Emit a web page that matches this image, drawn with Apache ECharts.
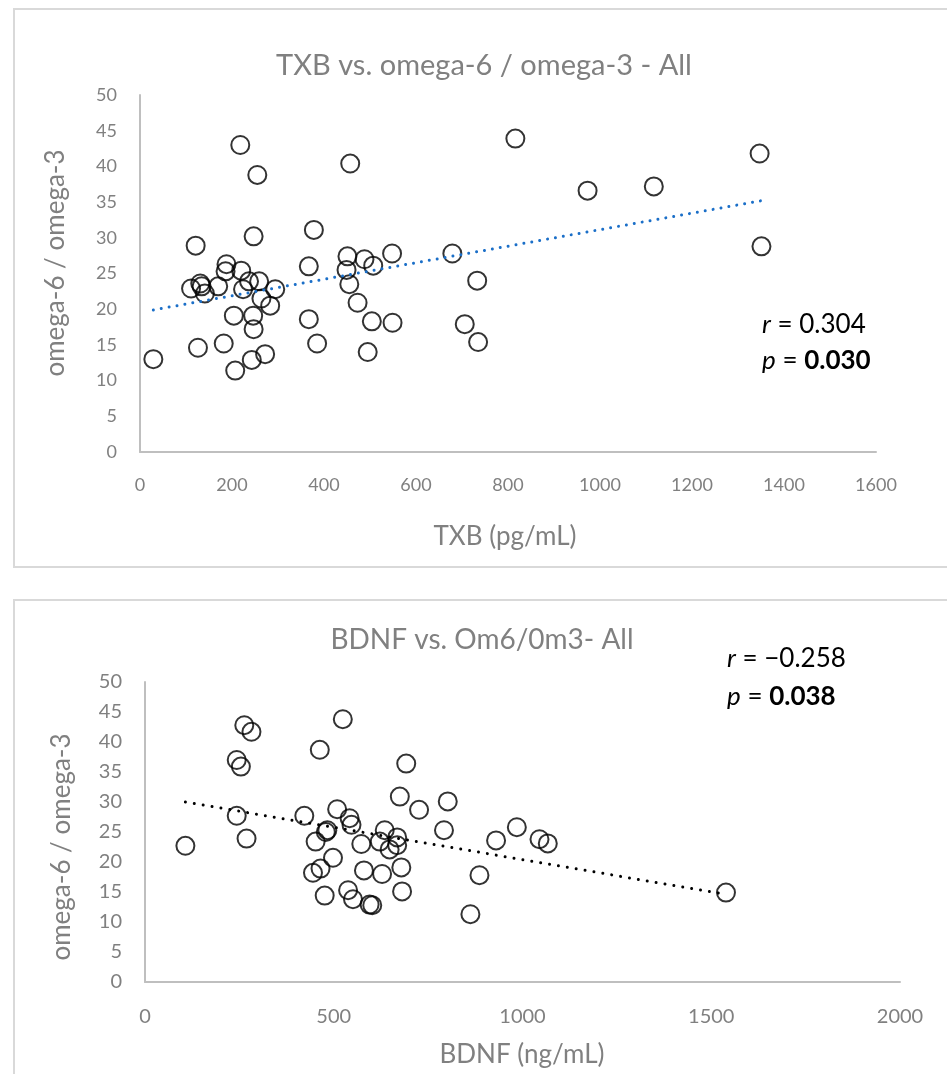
<!DOCTYPE html>
<html>
<head>
<meta charset="utf-8">
<script src="https://cdn.jsdelivr.net/npm/echarts@6/dist/echarts.min.js"></script>
<style>
  html, body { margin: 0; padding: 0; background: #ffffff; }
  #chart { width: 947px; height: 1074px; }
</style>
</head>
<body>
<div id="chart"></div>
<script>
// TXB (pg/mL) and omega-6 / omega-3 ratio, one entry per subject
const txbValues = [29, 121, 218, 255, 247, 457, 378, 367, 451, 488, 507, 548, 449, 455, 473, 504, 549, 367, 385, 495,
  188, 186, 220, 111, 131, 134, 141, 170, 224, 237, 259, 294, 264, 283, 204, 246, 247, 126, 182, 243, 272, 207,
  816, 1347, 973, 1117, 1351, 679, 733, 706, 735];
const txbRatio = [13.0, 28.9, 43.0, 38.8, 30.2, 40.4, 31.1, 26.0, 27.4, 27.0, 26.1, 27.8, 25.5, 23.5, 20.9, 18.3, 18.1, 18.6, 15.2, 14.0,
  26.3, 25.3, 25.4, 22.9, 23.6, 23.2, 22.2, 23.2, 22.8, 23.9, 23.9, 22.8, 21.5, 20.5, 19.1, 19.1, 17.2, 14.6, 15.2, 12.9, 13.7, 11.4,
  43.9, 41.8, 36.6, 37.2, 28.8, 27.8, 24.0, 17.9, 15.4];

// BDNF (ng/mL) and omega-6 / omega-3 ratio
const bdnfValues = [107, 263, 282, 243, 254, 243, 269, 524, 463, 422, 509, 542, 547, 483, 479, 452, 573, 498, 445, 465,
  580, 628, 476, 538, 551, 595, 602, 692, 675, 726, 802, 792, 635, 622, 668, 668, 648, 679, 681, 862,
  886, 930, 985, 1045, 1067, 1539];
const bdnfRatio = [22.7, 42.8, 41.7, 37.0, 35.9, 27.7, 23.9, 43.8, 38.7, 27.7, 28.8, 27.3, 26.2, 25.3, 25.0, 23.4, 23.0, 20.7, 18.2, 18.9,
  18.6, 18.0, 14.4, 15.3, 13.8, 12.9, 12.8, 36.4, 30.9, 28.7, 30.1, 25.3, 25.3, 23.4, 24.1, 22.8, 22.1, 19.1, 15.1, 11.3,
  17.8, 23.6, 25.8, 23.8, 23.1, 14.9];

// Linear trend line end points
const txbTrendX = [29, 1351];
const txbTrendY = [19.9, 35.2];
const bdnfTrendX = [107, 1539];
const bdnfTrendY = [30.0, 14.6];

// Titles, axis names and statistics
const titles = ['TXB vs. omega-6 / omega-3 - All', 'BDNF vs. Om6/0m3- All'];
const xNames = ['TXB (pg/mL)', 'BDNF (ng/mL)'];
const yName = 'omega-6 / omega-3';
const stats = [['0.304', '0.030'], ['\u22120.258', '0.038']];

const FONT = 'Lato, "Open Sans", sans-serif';
const GRAY = '#808080';

const zip = (xs, ys) => xs.map((x, i) => [x, ys[i]]);

function valueAxis(gridIndex, min, max, interval, fontSize, margin) {
  return {
    type: 'value', gridIndex, min, max, interval,
    axisLine: { show: true, lineStyle: { color: '#bfbfbf', width: 2 } },
    axisTick: { show: false },
    splitLine: { show: false },
    axisLabel: {
      color: GRAY, fontFamily: FONT, fontSize, margin,
      formatter: (v) => String(v)
    }
  };
}

function circles(xi, yi, data) {
  return {
    type: 'scatter', xAxisIndex: xi, yAxisIndex: yi, data,
    symbol: 'circle', symbolSize: 18, z: 2,
    itemStyle: { color: 'rgba(0,0,0,0)', borderColor: '#000', borderWidth: 2 }
  };
}

function trend(xi, yi, data, color, width, gap) {
  return {
    type: 'line', xAxisIndex: xi, yAxisIndex: yi, data,
    showSymbol: false, silent: true, z: 3,
    lineStyle: { color, width, type: [0.01, gap], cap: 'round' }
  };
}

function statText(x, y, letter, value, bold) {
  return {
    type: 'text', x, y,
    style: {
      text: '{it|' + letter + '} = {v|' + value + '}',
      fontFamily: FONT, fontSize: 26, fill: '#000', textVerticalAlign: 'middle',
      rich: {
        it: { fontStyle: 'italic', fontFamily: FONT, fontSize: 26, fill: '#000' },
        v: { fontFamily: FONT, fontSize: 26, fill: '#000', fontWeight: bold ? 'bold' : 'normal' }
      }
    }
  };
}

function label(x, y, text, size, rotation) {
  return {
    type: 'text', x, y, rotation: rotation || 0,
    style: {
      text, fontFamily: FONT, fontSize: size, fill: GRAY,
      textAlign: 'center', textVerticalAlign: 'middle'
    }
  };
}

const chart = echarts.init(document.getElementById('chart'), null, { renderer: 'canvas' });

chart.setOption({
  backgroundColor: '#ffffff',
  animation: false,
  grid: [
    { left: 140, right: 71, top: 95, bottom: 622 },
    { left: 145, right: 47, top: 682, bottom: 92 }
  ],
  xAxis: [
    valueAxis(0, 0, 1600, 200, 18, 24),
    valueAxis(1, 0, 2000, 500, 20, 25)
  ],
  yAxis: [
    valueAxis(0, 0, 50, 5, 18, 23),
    valueAxis(1, 0, 50, 5, 20, 23)
  ],
  series: [
    circles(0, 0, zip(txbValues, txbRatio)),
    trend(0, 0, zip(txbTrendX, txbTrendY), '#1b6fc8', 3, 8),
    circles(1, 1, zip(bdnfValues, bdnfRatio)),
    trend(1, 1, zip(bdnfTrendX, bdnfTrendY), '#000000', 3, 9)
  ],
  graphic: [
    // chart area frames
    { type: 'rect', shape: { x: 14, y: 9, width: 960, height: 558 }, style: { fill: 'none', stroke: '#d9d9d9', lineWidth: 2 }, z: -1 },
    { type: 'rect', shape: { x: 14, y: 600, width: 960, height: 520 }, style: { fill: 'none', stroke: '#d9d9d9', lineWidth: 2 }, z: -1 },
    // titles
    label(484, 66, titles[0], 29),
    label(482, 640, titles[1], 28),
    // axis names
    label(505, 537, xNames[0], 26),
    label(522, 1055, xNames[1], 26),
    label(56, 263, yName, 26, Math.PI / 2),
    label(62, 847, yName, 26, Math.PI / 2),
    // correlation statistics
    statText(762, 325, 'r', stats[0][0], false),
    statText(762, 361, 'p', stats[0][1], true),
    statText(727, 659, 'r', stats[1][0], false),
    statText(727, 697, 'p', stats[1][1], true)
  ]
});
</script>
</body>
</html>
